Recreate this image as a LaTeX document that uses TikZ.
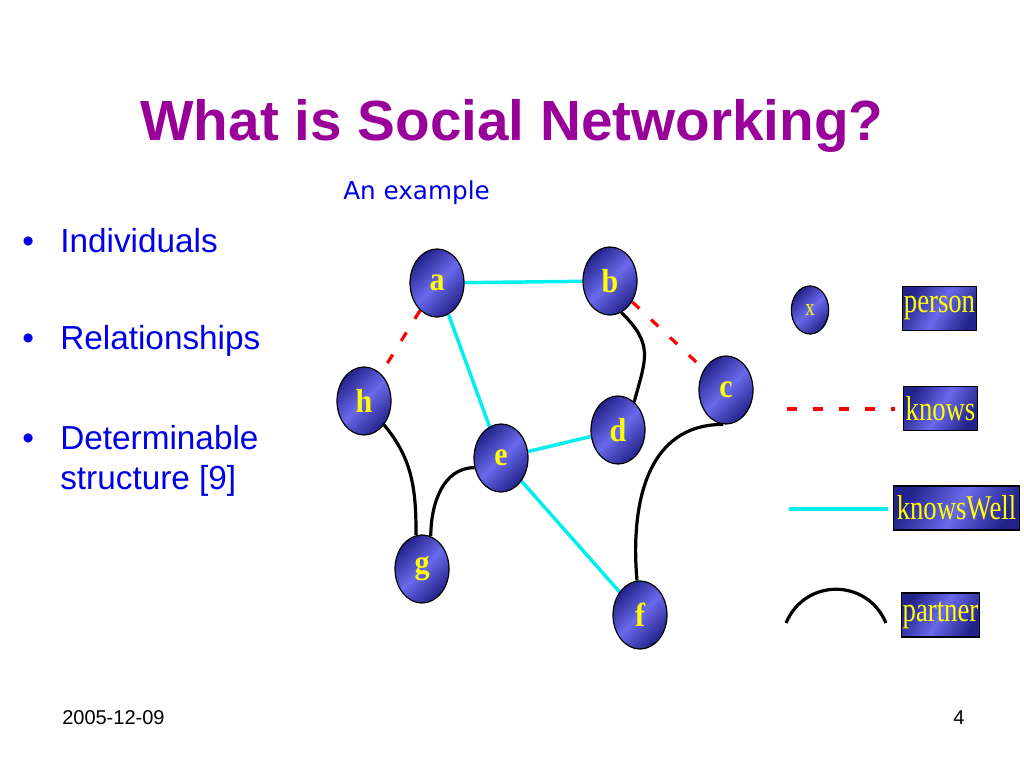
\documentclass[tikz,border=0pt]{standalone}
\usepackage{fontspec}
\setmainfont{Liberation Serif}
\newfontfamily\arialf{Liberation Sans}
\newfontfamily\verdf{DejaVu Sans}
\newfontfamily\legendf[FakeStretch=0.77]{Liberation Serif}
\newfontfamily\letterf[FakeStretch=0.9]{Liberation Serif}
\usetikzlibrary{shapes.geometric,backgrounds}
\definecolor{titlepurple}{RGB}{153,0,153}
\definecolor{textblue}{RGB}{0,0,230}
\definecolor{nodedark}{RGB}{35,35,140}
\definecolor{nodelight}{RGB}{105,105,235}
\definecolor{nodeyellow}{RGB}{255,255,0}
\definecolor{linkcyan}{RGB}{0,240,240}
\tikzset{
  personnode/.style={ellipse, draw=black, line width=0.9pt,
    top color=nodedark, bottom color=nodedark, middle color=nodelight, shading angle=45,
    minimum width=40.5pt, minimum height=51pt, inner sep=0pt, text=nodeyellow,
    font=\letterf\bfseries\fontsize{25}{25}\selectfont},
  legendbox/.style={rectangle, draw=black, line width=0.9pt,
    top color=nodedark, bottom color=nodedark, middle color=nodelight, shading angle=60,
    minimum height=33pt, inner xsep=1pt, inner ysep=0pt, text=nodeyellow,
    font=\legendf\fontsize{26}{26}\selectfont},
  knowsedge/.style={draw=red, line width=2.4pt, dash pattern=on 7.5pt off 12pt},
  welledge/.style={draw=linkcyan, line width=2.6pt},
  partneredge/.style={draw=black, line width=2.4pt},
  bullettext/.style={anchor=base west, inner sep=0pt, text=textblue, font=\arialf\fontsize{25}{30}\selectfont},
  footer/.style={anchor=base west, inner sep=0pt, font=\arialf\fontsize{15}{15}\selectfont},
}
\begin{document}
\begin{tikzpicture}[x=0.75pt,y=0.75pt]
\useasboundingbox (0,0) rectangle (1024,768);
% title
\node[anchor=base, inner sep=0pt, text=titlepurple, font=\arialf\bfseries\fontsize{42.5}{42.5}\selectfont] (title) at (512,627) {What is Social Networking?};
\node[anchor=base west, inner sep=0pt, text=textblue, font=\verdf\fontsize{18.5}{18.5}\selectfont] (sub) at (343,568) {An example};
% bullets
\node[bullettext] (b1) at (22,515) {•};
\node[bullettext] (t1) at (60,515) {Individuals};
\node[bullettext] (b2) at (22,418) {•};
\node[bullettext] (t2) at (60,418) {Relationships};
\node[bullettext] (b3) at (22,318) {•};
\node[bullettext] (t3) at (60,318) {Determinable};
\node[bullettext] (t4) at (60,278) {structure [9]};
% footer
\node[footer] (date) at (62,44) {2005-12-09};
\node[footer] (page) at (953,44) {4};
% graph nodes
\node[personnode] (a) at (437,485) {\raisebox{-2pt}{a}};
\node[personnode] (b) at (610,487) {\raisebox{-2pt}{b}};
\node[personnode] (h) at (364,367) {\raisebox{-2pt}{h}};
\node[personnode] (c) at (726,378) {\raisebox{-2pt}{c}};
\node[personnode] (d) at (618,338) {\raisebox{-2pt}{d}};
\node[personnode] (e) at (501,310) {\raisebox{-2pt}{e}};
\node[personnode] (g) at (422,199) {\raisebox{-2pt}{g}};
\node[personnode] (f) at (640,153) {\raisebox{-2pt}{f}};
% legend
\node[personnode, minimum width=28pt, minimum height=36pt, font=\legendf\fontsize{18}{18}\selectfont] (x) at (810,458) {x};
\node[legendbox, minimum width=56pt] (lperson) at (939.5,459.5) {\raisebox{-2pt}{person}};
\node[legendbox, minimum width=55pt] (lknows) at (940.5,359.5) {\raisebox{-2pt}{knows}};
\node[legendbox, minimum width=94pt] (lwell) at (956.5,260) {\raisebox{-2pt}{knowsWell}};
\node[legendbox, minimum width=59pt] (lpartner) at (940.5,153) {\raisebox{-2pt}{partner}};
\coordinate (k0) at (787,359);
\coordinate (k1) at (895,359);
\coordinate (w0) at (789,259);
\coordinate (w1) at (888,259);
\coordinate (p0) at (786,145);
\coordinate (p1) at (886,145);
\begin{scope}[on background layer]
  \draw[welledge] (a) -- (b);
  \draw[welledge] (a) -- (e);
  \draw[welledge] (e) -- (d);
  \draw[welledge] (e) -- (f);
  \draw[knowsedge] (a) -- (h);
  \draw[knowsedge] (b) -- (c);
  \draw[partneredge] (b.-70) to[out=-45, in=75, looseness=1.3] (d.60);
  \draw[partneredge] (h.-50) to[out=-50, in=90] (g.100);
  \draw[partneredge] (g.75) to[out=90, in=180] (e.200);
  \draw[partneredge] (c.-95) to[out=180, in=95, looseness=1.1] (f.95);
  \draw[knowsedge] (k0) -- (k1);
  \draw[welledge] (w0) -- (w1);
  \draw[partneredge] (p0) .. controls (805,190) and (867,190) .. (p1);
\end{scope}
\end{tikzpicture}
\end{document}
